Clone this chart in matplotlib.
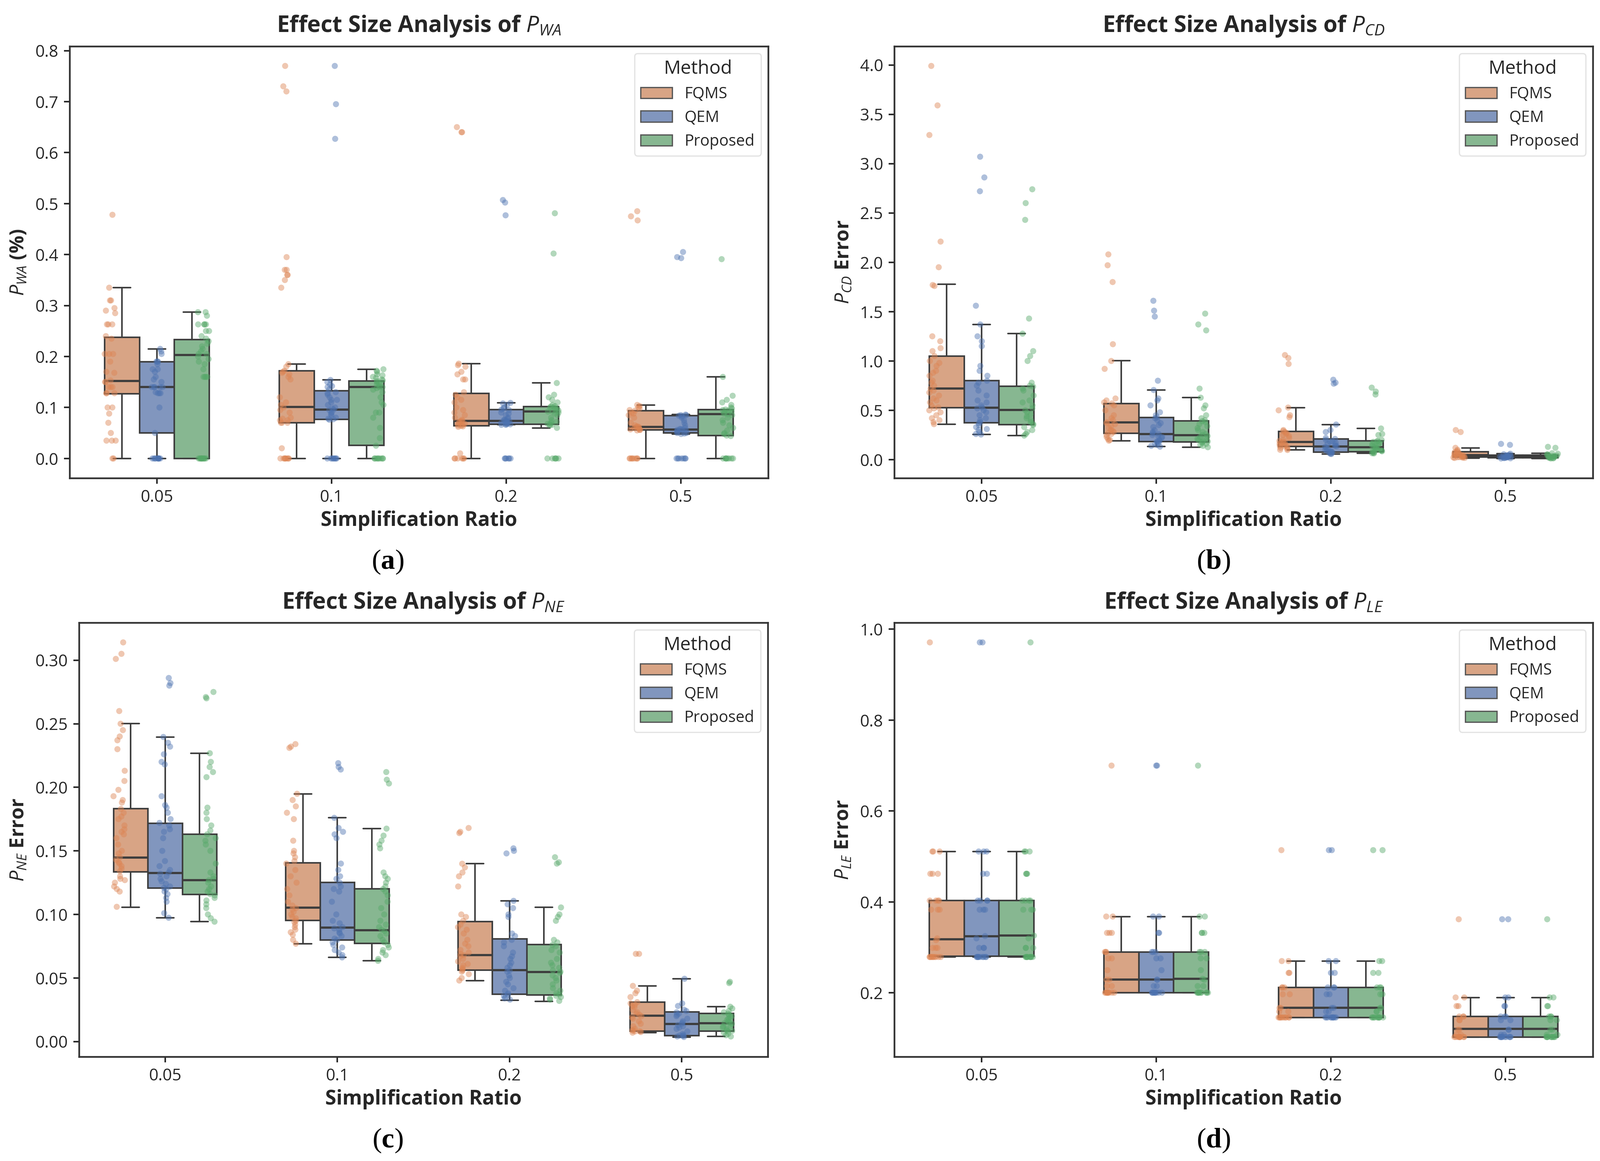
import numpy as np
import pandas as pd
import matplotlib
matplotlib.use("Agg")
import matplotlib.pyplot as plt
from matplotlib.patches import Patch
import seaborn as sns

sns.set_style("ticks")
plt.rcParams['font.family'] = ['Open Sans', 'DejaVu Sans']
plt.rcParams['mathtext.fontset'] = 'custom'
plt.rcParams['mathtext.it'] = 'Open Sans:italic'
plt.rcParams['mathtext.rm'] = 'Open Sans'
plt.rcParams['mathtext.bf'] = 'Liberation Serif:bold'
plt.rcParams['text.color'] = '#262626'
plt.rcParams['axes.labelcolor'] = '#262626'
plt.rcParams['xtick.color'] = '#262626'
plt.rcParams['ytick.color'] = '#262626'

ratios = ["0.05", "0.1", "0.2", "0.5"]
methods = ["FQMS", "QEM", "Proposed"]
box_colors = ["#D8A485", "#8196BE", "#87B791"]
point_colors = ["#DD8452", "#4C72B0", "#55A868"]

# ------------------------- P_WA -------------------------
pwa_fqms = [
    [0.478, 0.335, 0.31, 0.31, 0.295, 0.29, 0.285, 0.263, 0.263, 0.263, 0.24, 0.235, 0.205, 0.205, 0.205,
     0.19, 0.17, 0.168, 0.153, 0.15, 0.15, 0.14, 0.14, 0.14, 0.128, 0.128, 0.128, 0.1, 0.1, 0.088, 0.07,
     0.05, 0.035, 0.035, 0.035, 0.0, 0.0],
    [0.77, 0.73, 0.72, 0.395, 0.37, 0.37, 0.36, 0.36, 0.35, 0.335, 0.185, 0.18, 0.172, 0.17, 0.168, 0.165,
     0.16, 0.155, 0.12, 0.11, 0.105, 0.1, 0.095, 0.09, 0.08, 0.078, 0.075, 0.075, 0.07, 0.07, 0.07, 0.02]
    + [0.0] * 8,
    [0.65, 0.64, 0.64, 0.186, 0.183, 0.18, 0.17, 0.165, 0.155, 0.155, 0.13, 0.125, 0.12, 0.115, 0.11, 0.1,
     0.095, 0.09, 0.085, 0.08, 0.076, 0.074, 0.073, 0.072, 0.07, 0.068, 0.066, 0.065, 0.064, 0.063, 0.062,
     0.01] + [0.0] * 6,
    [0.485, 0.475, 0.467, 0.105, 0.103, 0.1, 0.098, 0.095, 0.094, 0.09, 0.088, 0.085, 0.08, 0.07, 0.065,
     0.063, 0.062, 0.062, 0.06, 0.06, 0.058, 0.057, 0.056, 0.056, 0.055] + [0.0] * 8,
]
pwa_qem = [
    [0.215, 0.21, 0.205, 0.19, 0.19, 0.19, 0.185, 0.175, 0.175, 0.17, 0.16, 0.155, 0.15, 0.14, 0.14, 0.14,
     0.14, 0.14, 0.13, 0.128, 0.128, 0.128, 0.1, 0.05] + [0.0] * 10,
    [0.77, 0.695, 0.627, 0.154, 0.15, 0.145, 0.142, 0.14, 0.135, 0.13, 0.128, 0.125, 0.12, 0.115, 0.115,
     0.11, 0.105, 0.1, 0.098, 0.096, 0.095, 0.09, 0.088, 0.085, 0.08, 0.078, 0.077, 0.076] + [0.0] * 8,
    [0.507, 0.502, 0.477, 0.109, 0.108, 0.105, 0.1, 0.098, 0.096, 0.095, 0.09, 0.088, 0.085, 0.08, 0.078,
     0.076, 0.075, 0.074, 0.074, 0.073, 0.072, 0.07, 0.07, 0.069, 0.068, 0.067, 0.067, 0.066, 0.066]
    + [0.0] * 6,
    [0.405, 0.395, 0.393, 0.086, 0.085, 0.085, 0.084, 0.083, 0.08, 0.075, 0.07, 0.065, 0.06, 0.058, 0.057,
     0.057, 0.056, 0.055, 0.054, 0.052, 0.05, 0.05, 0.049, 0.048] + [0.0] * 7,
]
pwa_prop = [
    [0.287, 0.287, 0.28, 0.263, 0.263, 0.263, 0.263, 0.25, 0.25, 0.24, 0.235, 0.23, 0.225, 0.22, 0.215,
     0.21, 0.205, 0.205, 0.2, 0.195, 0.19, 0.185, 0.175, 0.16, 0.16, 0.16, 0.16] + [0.0] * 12,
    [0.175, 0.172, 0.17, 0.165, 0.163, 0.16, 0.158, 0.155, 0.153, 0.152, 0.15, 0.148, 0.145, 0.142, 0.14,
     0.14, 0.138, 0.135, 0.13, 0.12, 0.11, 0.105, 0.09, 0.09, 0.08, 0.06, 0.04, 0.025] + [0.0] * 9,
    [0.481, 0.402, 0.148, 0.125, 0.12, 0.115, 0.11, 0.105, 0.103, 0.102, 0.1, 0.1, 0.098, 0.096, 0.094,
     0.092, 0.092, 0.09, 0.088, 0.085, 0.08, 0.075, 0.072, 0.07, 0.068, 0.067, 0.066, 0.065, 0.06]
    + [0.0] * 6,
    [0.391, 0.16, 0.123, 0.115, 0.11, 0.105, 0.1, 0.098, 0.096, 0.095, 0.094, 0.092, 0.09, 0.088, 0.087,
     0.085, 0.08, 0.075, 0.07, 0.065, 0.06, 0.055, 0.05, 0.048, 0.045, 0.044] + [0.0] * 8,
]
# box statistics: rows = FQMS, QEM, Proposed ; columns = ratios
pwa_wlo = [[0.0, 0.0, 0.0, 0.0], [0.0, 0.0, 0.066, 0.048], [0.0, 0.0, 0.060, 0.0]]
pwa_q1 = [[0.127, 0.070, 0.064, 0.056], [0.050, 0.077, 0.067, 0.050], [0.0, 0.026, 0.067, 0.045]]
pwa_med = [[0.152, 0.101, 0.074, 0.062], [0.140, 0.096, 0.074, 0.057], [0.203, 0.140, 0.092, 0.087]]
pwa_q3 = [[0.238, 0.172, 0.128, 0.094], [0.190, 0.133, 0.096, 0.084], [0.233, 0.152, 0.102, 0.096]]
pwa_whi = [[0.335, 0.185, 0.186, 0.105], [0.215, 0.154, 0.109, 0.086], [0.287, 0.175, 0.148, 0.160]]

# ------------------------- P_CD -------------------------
pcd_fqms = [
    [3.99, 3.59, 3.29, 2.21, 1.95, 1.77, 1.76, 1.25, 1.2, 1.13, 1.1, 1.05, 1.0, 0.98, 0.95, 0.9, 0.88,
     0.85, 0.8, 0.78, 0.75, 0.72, 0.7, 0.68, 0.65, 0.62, 0.6, 0.58, 0.55, 0.53, 0.52, 0.5, 0.48, 0.45,
     0.42, 0.4, 0.38, 0.36],
    [2.08, 1.97, 1.80, 1.17, 1.0, 0.92, 0.62, 0.6, 0.58, 0.57, 0.55, 0.5, 0.45, 0.42, 0.4, 0.38, 0.37,
     0.36, 0.34, 0.32, 0.3, 0.29, 0.28, 0.27, 0.26, 0.25, 0.23, 0.21, 0.2, 0.192],
    [1.06, 1.03, 0.97, 0.528, 0.5, 0.45, 0.43, 0.3, 0.29, 0.28, 0.27, 0.26, 0.25, 0.24, 0.22, 0.2, 0.19,
     0.18, 0.175, 0.17, 0.16, 0.15, 0.14, 0.135, 0.13, 0.12, 0.11, 0.1, 0.098],
    [0.30, 0.28, 0.12, 0.1, 0.09, 0.08, 0.075, 0.07, 0.065, 0.06, 0.055, 0.05, 0.048, 0.046, 0.045, 0.04,
     0.035, 0.03, 0.028, 0.026, 0.025, 0.022, 0.02, 0.018, 0.017],
]
pcd_qem = [
    [3.07, 2.86, 2.72, 1.56, 1.37, 1.25, 1.2, 1.15, 0.95, 0.9, 0.85, 0.8, 0.78, 0.75, 0.7, 0.65, 0.6,
     0.58, 0.55, 0.53, 0.52, 0.5, 0.48, 0.45, 0.42, 0.4, 0.38, 0.37, 0.35, 0.33, 0.31, 0.3, 0.28, 0.26,
     0.255],
    [1.61, 1.51, 1.45, 0.80, 0.706, 0.62, 0.6, 0.55, 0.48, 0.45, 0.43, 0.42, 0.4, 0.37, 0.35, 0.33, 0.3,
     0.28, 0.27, 0.26, 0.25, 0.24, 0.23, 0.22, 0.2, 0.19, 0.185, 0.18, 0.17, 0.16, 0.15, 0.14, 0.132],
    [0.81, 0.78, 0.77, 0.356, 0.3, 0.28, 0.22, 0.21, 0.2, 0.19, 0.18, 0.17, 0.16, 0.15, 0.14, 0.135, 0.13,
     0.12, 0.11, 0.1, 0.09, 0.085, 0.08, 0.075, 0.07, 0.065, 0.06, 0.057],
    [0.16, 0.15, 0.06, 0.055, 0.05, 0.045, 0.04, 0.038, 0.035, 0.032, 0.03, 0.028, 0.027, 0.026, 0.025,
     0.022, 0.02, 0.018, 0.016, 0.014, 0.012],
]
pcd_prop = [
    [2.74, 2.60, 2.43, 1.43, 1.277, 1.1, 1.05, 1.0, 0.78, 0.75, 0.74, 0.72, 0.7, 0.65, 0.6, 0.58, 0.55,
     0.52, 0.5, 0.48, 0.46, 0.44, 0.42, 0.4, 0.38, 0.36, 0.35, 0.33, 0.3, 0.28, 0.26, 0.244],
    [1.48, 1.37, 1.31, 0.72, 0.628, 0.55, 0.52, 0.45, 0.42, 0.4, 0.39, 0.38, 0.36, 0.34, 0.32, 0.3, 0.28,
     0.26, 0.25, 0.24, 0.23, 0.22, 0.21, 0.2, 0.19, 0.185, 0.18, 0.17, 0.16, 0.15, 0.14, 0.126],
    [0.73, 0.69, 0.66, 0.316, 0.26, 0.25, 0.2, 0.19, 0.185, 0.18, 0.17, 0.16, 0.15, 0.14, 0.13, 0.125,
     0.12, 0.11, 0.1, 0.095, 0.09, 0.085, 0.08, 0.075, 0.07, 0.065, 0.063],
    [0.13, 0.12, 0.065, 0.06, 0.055, 0.05, 0.045, 0.04, 0.038, 0.035, 0.032, 0.03, 0.028, 0.027, 0.025,
     0.022, 0.02, 0.018, 0.016, 0.014, 0.012],
]
pcd_wlo = [[0.36, 0.192, 0.098, 0.017], [0.255, 0.132, 0.057, 0.012], [0.244, 0.126, 0.063, 0.012]]
pcd_q1 = [[0.525, 0.267, 0.132, 0.026], [0.373, 0.184, 0.075, 0.020], [0.353, 0.181, 0.080, 0.020]]
pcd_med = [[0.72, 0.376, 0.178, 0.046], [0.525, 0.261, 0.132, 0.030], [0.505, 0.247, 0.126, 0.030]]
pcd_q3 = [[1.05, 0.568, 0.287, 0.080], [0.80, 0.428, 0.209, 0.045], [0.743, 0.393, 0.192, 0.045]]
pcd_whi = [[1.776, 1.004, 0.528, 0.12], [1.37, 0.706, 0.356, 0.06], [1.277, 0.628, 0.316, 0.065]]

# ------------------------- P_NE -------------------------
pne_fqms = [
    [0.314, 0.305, 0.301, 0.26, 0.25, 0.245, 0.24, 0.237, 0.23, 0.213, 0.205, 0.198, 0.193, 0.19, 0.188,
     0.183, 0.18, 0.177, 0.175, 0.17, 0.167, 0.165, 0.163, 0.16, 0.155, 0.15, 0.148, 0.145, 0.143, 0.141,
     0.14, 0.138, 0.136, 0.134, 0.13, 0.128, 0.127, 0.125, 0.122, 0.12, 0.118, 0.106],
    [0.234, 0.232, 0.231, 0.1949, 0.19, 0.185, 0.18, 0.175, 0.158, 0.15, 0.148, 0.145, 0.142, 0.14, 0.135,
     0.13, 0.125, 0.12, 0.115, 0.11, 0.107, 0.105, 0.104, 0.102, 0.1, 0.098, 0.097, 0.095, 0.094, 0.092,
     0.09, 0.088, 0.086, 0.084, 0.08, 0.077],
    [0.168, 0.165, 0.164, 0.1399, 0.137, 0.133, 0.13, 0.122, 0.1, 0.098, 0.095, 0.092, 0.09, 0.088, 0.085,
     0.08, 0.077, 0.075, 0.072, 0.07, 0.069, 0.068, 0.067, 0.065, 0.063, 0.061, 0.06, 0.058, 0.057, 0.056,
     0.055, 0.053, 0.05, 0.048],
    [0.069, 0.069, 0.0438, 0.04, 0.038, 0.035, 0.031, 0.03, 0.029, 0.028, 0.027, 0.025, 0.023, 0.022,
     0.021, 0.02, 0.019, 0.018, 0.016, 0.014, 0.012, 0.01, 0.009, 0.0085, 0.008, 0.008, 0.0075, 0.007],
]
pne_qem = [
    [0.286, 0.282, 0.280, 0.2396, 0.235, 0.232, 0.226, 0.22, 0.218, 0.193, 0.186, 0.184, 0.18, 0.175,
     0.172, 0.17, 0.167, 0.165, 0.16, 0.15, 0.142, 0.138, 0.135, 0.133, 0.132, 0.13, 0.128, 0.126, 0.124,
     0.122, 0.121, 0.12, 0.118, 0.116, 0.113, 0.11, 0.101, 0.0974],
    [0.219, 0.216, 0.214, 0.176, 0.168, 0.165, 0.163, 0.16, 0.14, 0.135, 0.13, 0.128, 0.125, 0.122, 0.12,
     0.118, 0.11, 0.1, 0.095, 0.093, 0.09, 0.089, 0.088, 0.086, 0.085, 0.083, 0.081, 0.08, 0.078, 0.076,
     0.074, 0.072, 0.07, 0.068, 0.0662],
    [0.152, 0.150, 0.148, 0.1107, 0.108, 0.105, 0.1, 0.098, 0.085, 0.083, 0.08, 0.078, 0.075, 0.07, 0.067,
     0.065, 0.062, 0.06, 0.058, 0.056, 0.055, 0.052, 0.05, 0.047, 0.045, 0.042, 0.04, 0.038, 0.037, 0.036,
     0.035, 0.034, 0.033],
    [0.0494, 0.03, 0.028, 0.025, 0.024, 0.023, 0.022, 0.021, 0.02, 0.018, 0.016, 0.015, 0.014, 0.013,
     0.012, 0.011, 0.01, 0.008, 0.006, 0.005, 0.0048, 0.0045, 0.004, 0.0036],
]
pne_prop = [
    [0.275, 0.271, 0.270, 0.2268, 0.22, 0.216, 0.212, 0.208, 0.184, 0.18, 0.175, 0.17, 0.166, 0.163, 0.16,
     0.158, 0.155, 0.15, 0.14, 0.133, 0.13, 0.128, 0.127, 0.125, 0.122, 0.12, 0.118, 0.116, 0.115, 0.113,
     0.111, 0.108, 0.105, 0.1, 0.097, 0.0943],
    [0.212, 0.206, 0.203, 0.1675, 0.162, 0.158, 0.155, 0.152, 0.133, 0.13, 0.128, 0.125, 0.122, 0.12,
     0.118, 0.115, 0.11, 0.105, 0.1, 0.095, 0.092, 0.09, 0.088, 0.087, 0.085, 0.083, 0.08, 0.078, 0.076,
     0.074, 0.072, 0.07, 0.068, 0.065, 0.0635],
    [0.145, 0.141, 0.140, 0.1055, 0.1, 0.098, 0.095, 0.08, 0.078, 0.076, 0.075, 0.072, 0.07, 0.065, 0.062,
     0.06, 0.058, 0.056, 0.055, 0.054, 0.052, 0.05, 0.048, 0.045, 0.042, 0.04, 0.038, 0.037, 0.036, 0.035,
     0.034, 0.033, 0.032],
    [0.047, 0.046, 0.0274, 0.026, 0.024, 0.023, 0.022, 0.021, 0.02, 0.019, 0.018, 0.017, 0.016, 0.015,
     0.0145, 0.014, 0.013, 0.012, 0.011, 0.01, 0.009, 0.0085, 0.008, 0.007, 0.006, 0.005, 0.004],
]
pne_wlo = [[0.1055, 0.077, 0.0478, 0.007], [0.0974, 0.0662, 0.0326, 0.0036], [0.0943, 0.0635, 0.0317, 0.004]]
pne_q1 = [[0.1336, 0.0952, 0.0561, 0.0081], [0.1208, 0.0799, 0.0373, 0.0047], [0.1158, 0.0772, 0.0366, 0.0083]]
pne_med = [[0.1448, 0.1053, 0.068, 0.0204], [0.1325, 0.0896, 0.0561, 0.0137], [0.1269, 0.0876, 0.0546, 0.0144]]
pne_q3 = [[0.1832, 0.1405, 0.0943, 0.031], [0.1718, 0.1253, 0.0808, 0.0233], [0.1632, 0.1203, 0.0763, 0.0222]]
pne_whi = [[0.2503, 0.1949, 0.1399, 0.0438], [0.2396, 0.176, 0.1107, 0.0494], [0.2268, 0.1675, 0.1055, 0.0274]]

# ------------------------- P_LE -------------------------
ple_fqms = [
    [0.971, 0.511, 0.511, 0.511, 0.462, 0.462, 0.462, 0.403, 0.403, 0.403, 0.403, 0.383, 0.383, 0.383,
     0.32, 0.316, 0.299, 0.299, 0.299] + [0.279] * 10,
    [0.70, 0.368, 0.368, 0.332, 0.332, 0.332, 0.290, 0.290, 0.290, 0.276, 0.276, 0.25, 0.229, 0.229,
     0.215, 0.215] + [0.2005] * 10,
    [0.514, 0.270, 0.270, 0.244, 0.244, 0.212, 0.212, 0.212, 0.197, 0.197, 0.167, 0.167, 0.159, 0.159]
    + [0.146] * 10,
    [0.362, 0.190, 0.190, 0.171, 0.171, 0.148, 0.148, 0.148, 0.140, 0.140, 0.119, 0.119, 0.108, 0.108]
    + [0.103] * 10,
]
ple_qem = [
    [0.971, 0.971, 0.511, 0.511, 0.511, 0.462, 0.462, 0.403, 0.403, 0.403, 0.403, 0.383, 0.383, 0.383,
     0.325, 0.32, 0.299, 0.299, 0.299] + [0.279] * 10,
    [0.70, 0.70, 0.368, 0.368, 0.332, 0.332, 0.290, 0.290, 0.290, 0.276, 0.276, 0.25, 0.229, 0.229,
     0.215, 0.215] + [0.2005] * 10,
    [0.514, 0.514, 0.270, 0.270, 0.244, 0.244, 0.212, 0.212, 0.212, 0.197, 0.197, 0.167, 0.167, 0.159,
     0.159] + [0.146] * 10,
    [0.362, 0.362, 0.190, 0.190, 0.171, 0.171, 0.148, 0.148, 0.148, 0.140, 0.140, 0.119, 0.119, 0.108,
     0.108] + [0.103] * 10,
]
ple_prop = [
    [0.971, 0.511, 0.511, 0.511, 0.462, 0.462, 0.462, 0.403, 0.403, 0.403, 0.403, 0.383, 0.383, 0.383,
     0.326, 0.32, 0.299, 0.299, 0.299] + [0.279] * 10,
    [0.70, 0.368, 0.368, 0.332, 0.332, 0.332, 0.290, 0.290, 0.290, 0.276, 0.276, 0.25, 0.231, 0.229,
     0.215, 0.215] + [0.2005] * 10,
    [0.514, 0.514, 0.270, 0.270, 0.244, 0.244, 0.212, 0.212, 0.212, 0.197, 0.197, 0.167, 0.167, 0.159,
     0.159] + [0.146] * 10,
    [0.362, 0.190, 0.190, 0.171, 0.171, 0.148, 0.148, 0.148, 0.140, 0.140, 0.119, 0.119, 0.108, 0.108]
    + [0.103] * 10,
]
ple_wlo = [[0.279, 0.2005, 0.146, 0.103]] * 3
ple_q1 = [[0.281, 0.2005, 0.146, 0.103]] * 3
ple_med = [[0.318, 0.229, 0.167, 0.121], [0.325, 0.229, 0.167, 0.121], [0.326, 0.231, 0.167, 0.121]]
ple_q3 = [[0.403, 0.290, 0.212, 0.148]] * 3
ple_whi = [[0.511, 0.368, 0.270, 0.190]] * 3

W, H = 4251, 3084
fig = plt.figure(figsize=(W / 300, H / 300), dpi=300)

panels = [
    dict(rect=[185, 123, 2041, 1270], pts=[pwa_fqms, pwa_qem, pwa_prop],
         stats=[pwa_wlo, pwa_q1, pwa_med, pwa_q3, pwa_whi],
         title=r"Effect Size Analysis of $P_{WA}$", ylabel=r"$P_{WA}$ (%)", tag="a", tagpos=(1030, 1493)),
    dict(rect=[2376, 123, 4232, 1270], pts=[pcd_fqms, pcd_qem, pcd_prop],
         stats=[pcd_wlo, pcd_q1, pcd_med, pcd_q3, pcd_whi],
         title=r"Effect Size Analysis of $P_{CD}$", ylabel=r"$P_{CD}$ Error", tag="b", tagpos=(3224, 1493)),
    dict(rect=[210, 1654, 2040, 2807], pts=[pne_fqms, pne_qem, pne_prop],
         stats=[pne_wlo, pne_q1, pne_med, pne_q3, pne_whi],
         title=r"Effect Size Analysis of $P_{NE}$", ylabel=r"$P_{NE}$ Error", tag="c", tagpos=(1030, 3030)),
    dict(rect=[2376, 1654, 4232, 2807], pts=[ple_fqms, ple_qem, ple_prop],
         stats=[ple_wlo, ple_q1, ple_med, ple_q3, ple_whi],
         title=r"Effect Size Analysis of $P_{LE}$", ylabel=r"$P_{LE}$ Error", tag="d", tagpos=(3224, 3030)),
]

line_c = '#3d3d3d'
for p in panels:
    x0, y0, x1, y1 = p['rect']
    ax = fig.add_axes([x0 / W, 1 - y1 / H, (x1 - x0) / W, (y1 - y0) / H])
    rows = []
    for m, method in enumerate(methods):
        for r, ratio in enumerate(ratios):
            for v in p['pts'][m][r]:
                rows.append((ratio, method, v))
    df = pd.DataFrame(rows, columns=["ratio", "method", "value"])

    wlo, q1, med, q3, whi = p['stats']
    bstats, pos = [], []
    for m in range(3):
        for r in range(4):
            bstats.append(dict(whislo=wlo[m][r], q1=q1[m][r], med=med[m][r], q3=q3[m][r],
                               whishi=whi[m][r], fliers=[]))
            pos.append(r + (m - 1) * 0.2)
    art = ax.bxp(bstats, positions=pos, widths=0.2, capwidths=0.1, patch_artist=True,
                 showfliers=False, manage_ticks=False,
                 boxprops=dict(edgecolor=line_c, linewidth=1.0, zorder=2),
                 medianprops=dict(color=line_c, linewidth=1.4, zorder=2.1),
                 whiskerprops=dict(color=line_c, linewidth=1.0, zorder=2),
                 capprops=dict(color=line_c, linewidth=1.0, zorder=2))
    for i, patch in enumerate(art['boxes']):
        patch.set_facecolor(box_colors[i // 4])

    sns.stripplot(data=df, x="ratio", y="value", hue="method", order=ratios, hue_order=methods,
                  palette=point_colors, dodge=True, jitter=True, size=3.9, alpha=0.45,
                  linewidth=0, legend=False, ax=ax, zorder=3)

    ax.set_xlim(-0.5, 3.5)
    ax.set_xticks(range(4))
    ax.set_xticklabels(ratios)
    ax.tick_params(axis='both', labelsize=10.5, length=3.5, width=1.0, direction='out')
    for s in ax.spines.values():
        s.set_visible(True)
        s.set_color('#333333')
        s.set_linewidth(1.1)
    ax.set_xlabel("Simplification Ratio", fontsize=12.8, fontweight='bold', labelpad=3)
    ax.set_ylabel(p['ylabel'], fontsize=12.5, fontweight='bold', labelpad=4)
    ax.set_title(p['title'], fontsize=14.5, fontweight='bold', pad=9)

    handles = [Patch(facecolor=box_colors[k], edgecolor='#555555', linewidth=0.8, label=methods[k])
               for k in range(3)]
    leg = ax.legend(handles=handles, title="Method", loc='upper right', fontsize=10,
                    title_fontsize=12, frameon=True, fancybox=True, borderaxespad=0.45)
    leg.get_frame().set_edgecolor('#dcdcdc')
    leg.get_frame().set_linewidth(0.8)

    tx, ty = p['tagpos']
    fig.text(tx / W, 1 - ty / H, "(" + r"$\mathbf{" + p['tag'] + "}$" + ")", ha='center', va='center',
             fontsize=18, family=['Liberation Serif', 'DejaVu Serif'], color='black')

fig.savefig("out.png", dpi=300, facecolor='white')
